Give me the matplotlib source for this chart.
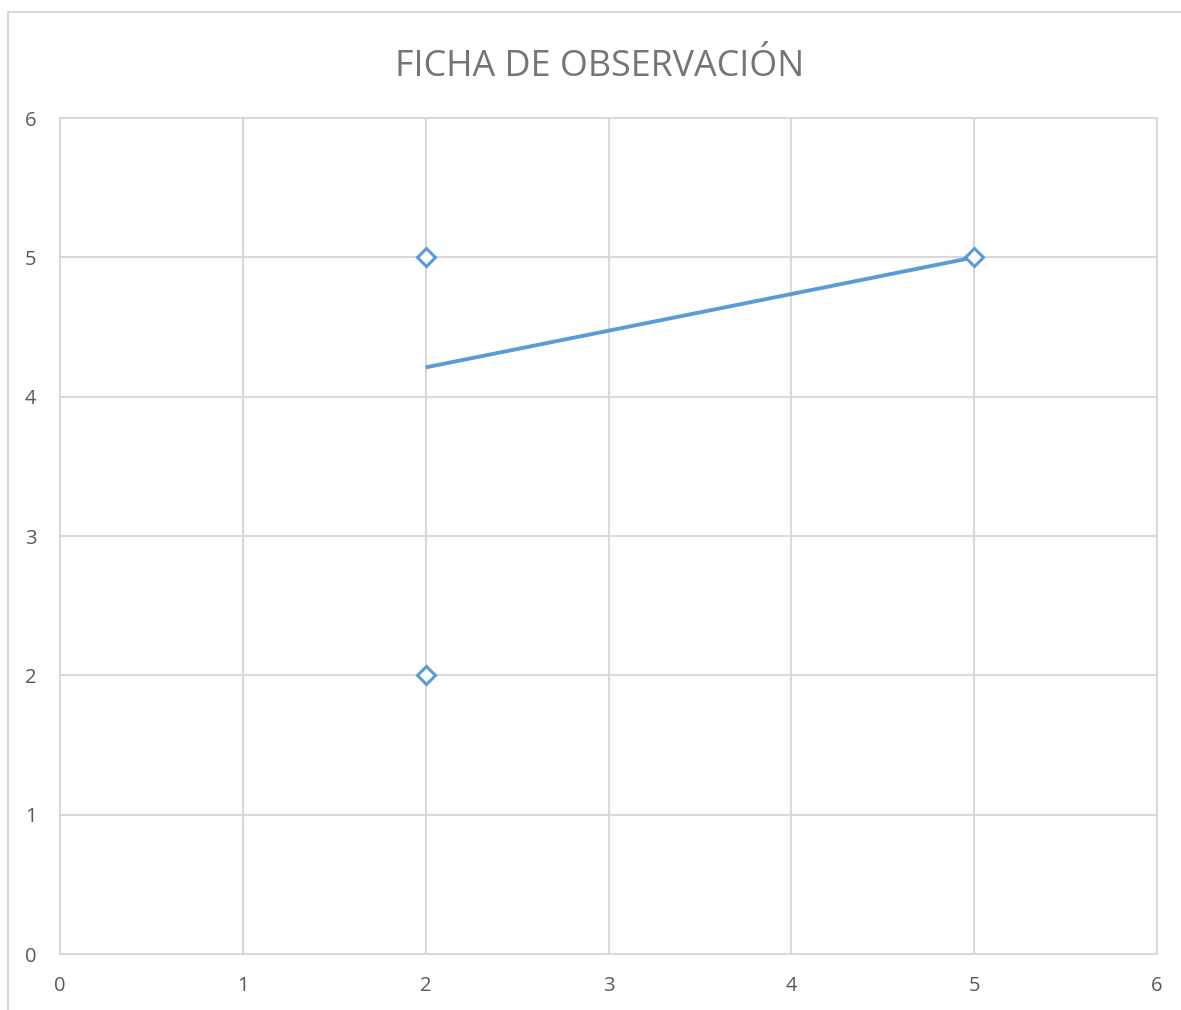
import matplotlib.pyplot as plt
from matplotlib.patches import Rectangle

# data
x_vals = [2, 2, 5]
y_vals = [5, 2, 5]
trend_x = [2, 5]
trend_y = [4.21, 5]
ticks = [0, 1, 2, 3, 4, 5, 6]

blue = '#5B9BD5'
grid_c = '#D9D9D9'
text_c = '#595959'

plt.rcParams['font.family'] = ['Open Sans', 'DejaVu Sans']

fig = plt.figure(figsize=(11.81, 10.10), dpi=100)
ax = fig.add_axes([60/1181, 56/1010, 1097/1181, 836/1010])

# chart border (left/top visible)
fig.patches.append(Rectangle((8/1181, -0.1), 1.2, (1010-12)/1010 + 0.1,
                             transform=fig.transFigure, fill=False,
                             edgecolor=grid_c, linewidth=1.5))

ax.plot(trend_x, trend_y, color=blue, linewidth=2.8, solid_capstyle='butt', zorder=3)
ax.plot(x_vals, y_vals, linestyle='none', marker='D', markersize=9,
        markerfacecolor='white', markeredgecolor=blue, markeredgewidth=2.2, zorder=4)

ax.set_xlim(0, 6)
ax.set_ylim(0, 6)
ax.set_xticks(ticks)
ax.set_yticks(ticks)
ax.grid(True, color=grid_c, linewidth=1.5)
ax.set_axisbelow(True)
for s in ax.spines.values():
    s.set_color(grid_c)
    s.set_linewidth(1.5)
ax.tick_params(length=0, colors=text_c, labelsize=14.5)
ax.tick_params(axis='y', pad=17)
ax.tick_params(axis='x', pad=16)

fig.text(600/1181, 1 - 76/1010, 'FICHA DE OBSERVACIÓN', ha='center', va='baseline',
         fontsize=25.8, color='#757575')

fig.savefig('out.png', dpi=100)
